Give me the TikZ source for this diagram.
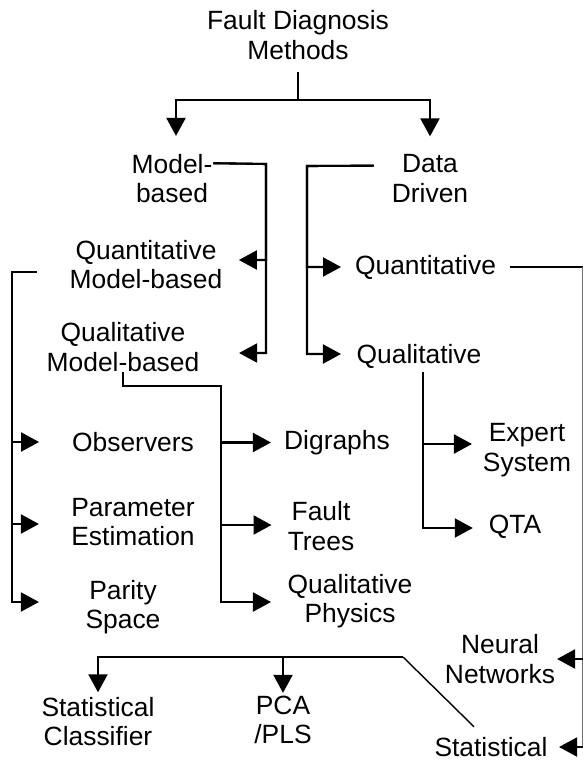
\documentclass[tikz,border=0pt]{standalone}
\usepackage{fontspec}
\setmainfont{Liberation Sans}
\usepackage{tikz}
\usetikzlibrary{arrows.meta}

\begin{document}
\begin{tikzpicture}[x=1pt,y=-1pt,line width=2.1pt,
  lbl/.style={align=center,inner sep=0pt,font=\fontsize{26.4}{29.5}\selectfont},
  arr/.style={-{Triangle[length=18pt,width=19pt]}}]
\useasboundingbox (0,0) rectangle (584,760);
\node[lbl] (fdm) at (298,35) {Fault Diagnosis\\Methods};
\node[lbl] (model) at (172,178.4) {Model-\\based};
\node[lbl] (dd) at (430,178.4) {Data\\Driven};
\node[lbl] (qnmb) at (146,264.4) {Quantitative\\Model-based};
\node[lbl] (qlmb) at (123,347) {Qualitative\\Model-based};
\node[lbl] (dqn) at (425.5,267) {Quantitative};
\node[lbl] (dql) at (419,356) {Qualitative};
\node[lbl] (obs) at (133,442) {Observers};
\node[lbl] (pe) at (133,522) {Parameter\\Estimation};
\node[lbl] (ps) at (123,607) {Parity\\Space};
\node[lbl] (dig) at (337,442.5) {Digraphs};
\node[lbl] (ft) at (321,526) {Fault\\Trees};
\node[lbl] (qp) at (350,601) {Qualitative\\Physics};
\node[lbl] (es) at (527,450) {Expert\\System};
\node[lbl] (qta) at (515,527) {QTA};
\node[lbl] (nn) at (500,659) {Neural\\Networks};
\node[lbl] (stat) at (491,747) {Statistical};
\node[lbl] (sc) at (98,721.8) {Statistical\\Classifier};
\node[lbl] (pca) at (283,720) {PCA\\/PLS};

% top split
\coordinate (split) at (298,100);
\draw ([yshift=-12pt]fdm.south) -- (split);
\draw[arr] (split) -| ([xshift=4pt,yshift=17pt]model.north);
\draw[arr] (split) -| ([yshift=17pt]dd.north);

% model based
\coordinate (mbus) at (266,164);
\draw[arr] ([yshift=-10.3pt]model.north east) -- (mbus) |- ([xshift=15.5pt,yshift=4.4pt]qnmb.east);
\draw[arr] ([yshift=-10.3pt]model.north east) -- (mbus) |- ([xshift=38.7pt,yshift=-6pt]qlmb.east);

% data driven
\coordinate (dbus) at (307,166);
\draw[arr] ([xshift=-17pt,yshift=-12.3pt]dd.north west) -- (dbus) |- ([xshift=-13pt]dqn.west);
\draw[arr] ([xshift=-17pt,yshift=-12.3pt]dd.north west) -- (dbus) |- ([xshift=-14.6pt,yshift=2pt]dql.west);

% quantitative model based
\coordinate (lbus) at (12,272);
\draw[arr] ([xshift=-31.7pt,yshift=-7.6pt]qnmb.west) -- (lbus) |- ([xshift=-32pt]obs.west);
\draw[arr] ([xshift=-31.7pt,yshift=-7.6pt]qnmb.west) -- (lbus) |- ([xshift=-31.4pt,yshift=-2pt]pe.west);
\draw[arr] ([xshift=-31.7pt,yshift=-7.6pt]qnmb.west) -- (lbus) |- ([xshift=-45.6pt,yshift=5pt]ps.west);

% qualitative model based
\coordinate (qbus) at (221,386);
\draw[arr] (qlmb.south) |- (qbus) |- ([xshift=-12.2pt]dig.west);
\draw[arr] (qlmb.south) |- (qbus) |- ([xshift=-15.2pt,yshift=1pt]ft.west);
\draw[arr] (qlmb.south) |- (qbus) |- ([xshift=-15.6pt,yshift=-1pt]qp.west);

% qualitative data
\draw[arr] ([xshift=4pt,yshift=-3pt]dql.south) |- ([xshift=-10pt,yshift=6pt]es.west);
\draw[arr] ([xshift=4pt,yshift=-3pt]dql.south) |- ([xshift=-15pt,yshift=-1pt]qta.west);

% quantitative data
\coordinate (rtop) at (582.5,267);
\coordinate (rbot) at (582.5,747);
\draw ([xshift=13pt]dqn.east) -- (rtop);
\draw[line width=0.8pt,black!55] (rtop) -- (rbot);
\draw[arr] (rtop |- nn) -- ([xshift=1pt]nn.east);
\draw[arr] (rbot) -- ([xshift=10.5pt]stat.east);

% statistical
\coordinate (sbend) at (403,657);
\draw[line width=1.4pt] ([xshift=-17pt,yshift=9.5pt]stat.north) -- (sbend);
\draw[arr] (sbend) -| ([yshift=4pt]sc.north);
\draw[arr] (sbend) -| ([yshift=2pt]pca.north);
\end{tikzpicture}
\end{document}
